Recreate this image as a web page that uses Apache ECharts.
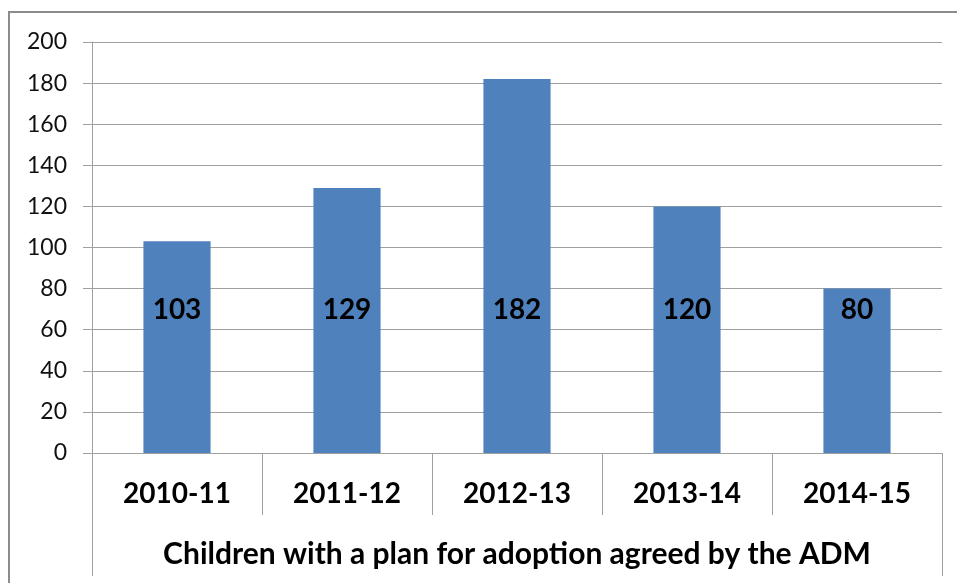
<!DOCTYPE html>
<html>
<head>
<meta charset="utf-8">
<script src="https://cdn.jsdelivr.net/npm/echarts@6/dist/echarts.min.js"></script>
<style>
  html, body { margin: 0; padding: 0; background: #fff; }
  #chart { width: 957px; height: 583px; }
</style>
</head>
<body>
<div id="chart"></div>
<script>
// Financial years and the number of children with an agreed adoption plan
const years = ['2010-11', '2011-12', '2012-13', '2013-14', '2014-15'];
const children = [103, 129, 182, 120, 80];
const groupLabel = ['Children with a plan for adoption agreed by the ADM'];

const FONT = 'Lato, "Open Sans", "Liberation Sans", sans-serif';
const GRID_GRAY = '#a0a0a0';

const chart = echarts.init(document.getElementById('chart'), null, { renderer: 'canvas' });

chart.setOption({
  animation: false,
  backgroundColor: '#ffffff',
  grid: { left: 92, right: 15, top: 42, bottom: 130 },
  xAxis: [
    {
      type: 'category',
      data: years,
      position: 'bottom',
      offset: 0,
      axisLine: { show: true, lineStyle: { color: GRID_GRAY, width: 1 } },
      axisTick: { show: true, length: 62, lineStyle: { color: GRID_GRAY } },
      axisLabel: { margin: 27, fontFamily: FONT, fontWeight: 'bold', fontSize: 28, color: '#000' }
    },
    {
      type: 'category',
      data: groupLabel,
      position: 'bottom',
      offset: 0,
      axisLine: { show: false },
      axisTick: { show: true, length: 123, lineStyle: { color: GRID_GRAY } },
      axisLabel: { margin: 86, fontFamily: FONT, fontWeight: 'bold', fontSize: 30, color: '#000' }
    }
  ],
  yAxis: {
    type: 'value',
    min: 0,
    max: 200,
    interval: 20,
    axisLine: { show: true, lineStyle: { color: GRID_GRAY } },
    axisTick: { show: true, length: 9, lineStyle: { color: GRID_GRAY } },
    splitLine: { show: true, lineStyle: { color: GRID_GRAY, width: 1 } },
    axisLabel: { margin: 25, fontFamily: FONT, fontSize: 23, color: '#111' }
  },
  series: [
    {
      type: 'bar',
      xAxisIndex: 0,
      data: children,
      barWidth: '39.5%',
      itemStyle: { color: '#4f81bd' },
      label: {
        show: true,
        position: 'insideBottom',
        distance: 129,
        fontFamily: FONT,
        fontWeight: 'bold',
        fontSize: 28,
        color: '#000'
      }
    }
  ],
  graphic: [
    {
      type: 'rect',
      shape: { x: 9, y: 12, width: 1200, height: 1000 },
      style: { fill: null, stroke: '#8c8c8c', lineWidth: 2 },
      silent: true,
      z: 100
    }
  ]
});
</script>
</body>
</html>
